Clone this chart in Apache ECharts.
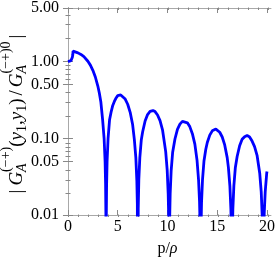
<!DOCTYPE html>
<html><head><meta charset="utf-8">
<script src="https://cdn.jsdelivr.net/npm/echarts@6/dist/echarts.min.js"></script>
<style>html,body{margin:0;padding:0;background:#fff}#c{width:278px;height:262px}</style>
</head><body><div id="c"></div>
<script>
// p/rho values (x) and |G ratio| values (y)
const xs = [0,0.1,0.2,0.3,0.38,0.44,0.48,0.51,0.7,1.0,1.3,1.6,2.0,2.25,2.5,2.75,3.0,3.15,3.3,3.48,3.63,3.73,3.78,3.81,3.832,3.85,3.88,3.93,4.03,4.18,4.35,4.5,4.65,4.8,5.0,5.15,5.3,5.5,5.75,6.0,6.25,6.5,6.67,6.82,6.92,6.97,7.016,7.06,7.12,7.22,7.37,7.5,7.75,8.0,8.25,8.54,8.75,9.0,9.25,9.5,9.82,9.97,10.07,10.13,10.1735,10.22,10.27,10.37,10.52,10.75,11.0,11.25,11.5,11.7,12.0,12.25,12.5,12.75,12.97,13.12,13.22,13.27,13.324,13.37,13.42,13.52,13.67,13.85,14.0,14.25,14.5,14.7,14.86,15.0,15.25,15.5,15.75,16.0,16.12,16.27,16.37,16.42,16.471,16.52,16.57,16.67,16.82,17.0,17.25,17.5,17.75,18.0,18.25,18.5,18.75,19.0,19.27,19.42,19.52,19.57,19.616,19.66,19.72,19.82,19.97,20.0];
const ys = [1.00,1.00,1.01,1.03,1.07,1.14,1.22,1.37,1.35,1.30,1.24,1.16,1.01,0.90,0.77,0.63,0.48,0.39,0.30,0.175,0.10,0.05,0.025,0.01,0.0001,0.009,0.024,0.05,0.10,0.175,0.225,0.268,0.30,0.33,0.36,0.368,0.368,0.358,0.325,0.278,0.218,0.15,0.096,0.056,0.028,0.014,0.0001,0.012,0.029,0.056,0.096,0.121,0.168,0.204,0.224,0.230,0.223,0.201,0.170,0.129,0.067,0.0385,0.019,0.0085,0.0001,0.009,0.019,0.038,0.066,0.098,0.131,0.153,0.166,0.168,0.159,0.141,0.115,0.084,0.0515,0.029,0.015,0.008,0.0001,0.0068,0.0144,0.029,0.051,0.072,0.088,0.110,0.125,0.131,0.132,0.130,0.120,0.104,0.082,0.056,0.0417,0.024,0.012,0.006,0.0001,0.006,0.012,0.024,0.0417,0.058,0.080,0.097,0.105,0.109,0.104,0.092,0.078,0.060,0.035,0.020,0.0096,0.0046,0.0001,0.0044,0.0104,0.020,0.035,0.037];
const xMajorTicks = [0,5,10,15,20];
const xMinorTicks = [0,1,2,3,4,5,6,7,8,9,10,11,12,13,14,15,16,17,18,19,20];
const yMajorTicks = [0.01,0.05,0.1,0.5,1,5];
const yTickLabels = ['0.01','0.05','0.10','0.50','1.00','5.00'];
const yMinorTicks = [0.02,0.03,0.04,0.06,0.07,0.08,0.09,0.2,0.3,0.4,0.6,0.7,0.8,0.9,2,3,4];

const SERIF = '"Liberation Serif", "DejaVu Serif", serif';
const frameColor = '#a8a8a8';
const tickColor = '#888';
const gridRect = {left: 64, top: 7.5, right: 6, bottom: 45};

function xAx(grid, pos, ticks, len, labels, line) {
  return {
    type: 'value', gridIndex: grid, position: pos, min: -0.4, max: 20.4,
    axisLine: {show: line, lineStyle: {color: frameColor, width: 1}},
    axisTick: {show: true, inside: true, length: len, customValues: ticks, lineStyle: {color: tickColor, width: 1}},
    axisLabel: {show: labels, customValues: ticks, margin: 4, fontFamily: SERIF, fontSize: 16, color: '#000'},
    splitLine: {show: false}
  };
}
function yAx(grid, pos, ticks, len, labels, line) {
  return {
    type: 'log', logBase: 10, gridIndex: grid, position: pos, min: 0.01, max: 5,
    axisLine: {show: line, lineStyle: {color: frameColor, width: 1}},
    axisTick: {show: true, inside: true, length: len, customValues: ticks, lineStyle: {color: tickColor, width: 1}},
    axisLabel: {show: labels, customValues: ticks, margin: 5, fontFamily: SERIF, fontSize: 16, color: '#000',
      formatter: function (v) {
        let best = 0;
        for (let i = 0; i < yMajorTicks.length; i++) if (Math.abs(Math.log(v / yMajorTicks[i])) < Math.abs(Math.log(v / yMajorTicks[best]))) best = i;
        return yTickLabels[best];
      }},
    splitLine: {show: false}
  };
}

const xa0 = xAx(0, 'bottom', xMajorTicks, 5, true, true);
xa0.name = '{p|p/}{r|ρ}';
xa0.nameLocation = 'middle';
xa0.nameGap = 26;
xa0.nameTextStyle = {rich: {p: {fontFamily: SERIF, fontSize: 16, color: '#000'}, r: {fontFamily: SERIF, fontSize: 16, fontStyle: 'italic', color: '#000'}}};

// rotated y-axis title built from text pieces
const ctx = document.createElement('canvas').getContext('2d');
function fontStr(size, italic) { return (italic ? 'italic ' : '') + size + 'px ' + SERIF; }
function tw(t, size, italic) { ctx.font = fontStr(size, italic); return ctx.measureText(t).width; }
const MAIN = 19, SMALL = 14;
const BASE = 17, SUPY = 6, SUBY = 22;
const pieces = [
  {t: '|', s: MAIN}, {gap: 4},
  {t: 'G', s: MAIN, i: true},
  {stack: [{t: 'A', s: SMALL, i: true, y: SUBY}, {t: '(−+)', s: SMALL, y: SUPY}]},
  {t: '(', s: MAIN}, {t: 'y', s: MAIN, i: true}, {t: '1', s: SMALL, y: SUBY}, {t: ',', s: MAIN},
  {t: 'y', s: MAIN, i: true}, {t: '1', s: SMALL, y: SUBY}, {t: ')', s: MAIN},
  {gap: 3}, {t: '/', s: MAIN}, {gap: 3},
  {t: 'G', s: MAIN, i: true},
  {stack: [{t: 'A', s: SMALL, i: true, y: SUBY}, {t: '(−+)0', s: SMALL, y: SUPY}]},
  {gap: 3}, {t: '|', s: MAIN}
];
const children = [];
let cx = 0;
function addText(p, x) {
  children.push({type: 'text', x: x, y: p.y !== undefined ? p.y : BASE,
    style: {text: p.t, font: fontStr(p.s, p.i), fill: '#000', align: 'left', verticalAlign: 'middle'}});
  return tw(p.t, p.s, p.i);
}
pieces.forEach(function (p) {
  if (p.gap) { cx += p.gap; return; }
  if (p.stack) {
    let m = 0;
    p.stack.forEach(function (q) { m = Math.max(m, addText(q, cx)); });
    cx += m; return;
  }
  cx += addText(p, cx);
});
const totalLen = cx;
const centerY = 114;

const chart = echarts.init(document.getElementById('c'), null, {renderer: 'canvas'});
chart.setOption({
  animation: false,
  backgroundColor: '#fff',
  grid: [Object.assign({}, gridRect), Object.assign({}, gridRect)],
  xAxis: [xa0, xAx(0, 'top', xMajorTicks, 5, false, true), xAx(1, 'bottom', xMinorTicks, 2.5, false, false), xAx(1, 'top', xMinorTicks, 2.5, false, false)],
  yAxis: [yAx(0, 'left', yMajorTicks, 5, true, true), yAx(0, 'right', yMajorTicks, 5, false, true), yAx(1, 'left', yMinorTicks, 2.5, false, false), yAx(1, 'right', yMinorTicks, 2.5, false, false)],
  graphic: [{type: 'group', x: 0, y: centerY + totalLen / 2, rotation: Math.PI / 2, children: children}],
  series: [{
    type: 'line', xAxisIndex: 0, yAxisIndex: 0, showSymbol: false, clip: true,
    lineStyle: {color: '#0000ff', width: 2.8}, smooth: false,
    data: xs.map(function (x, i) { return [x, ys[i]]; })
  }]
});
</script></body></html>
